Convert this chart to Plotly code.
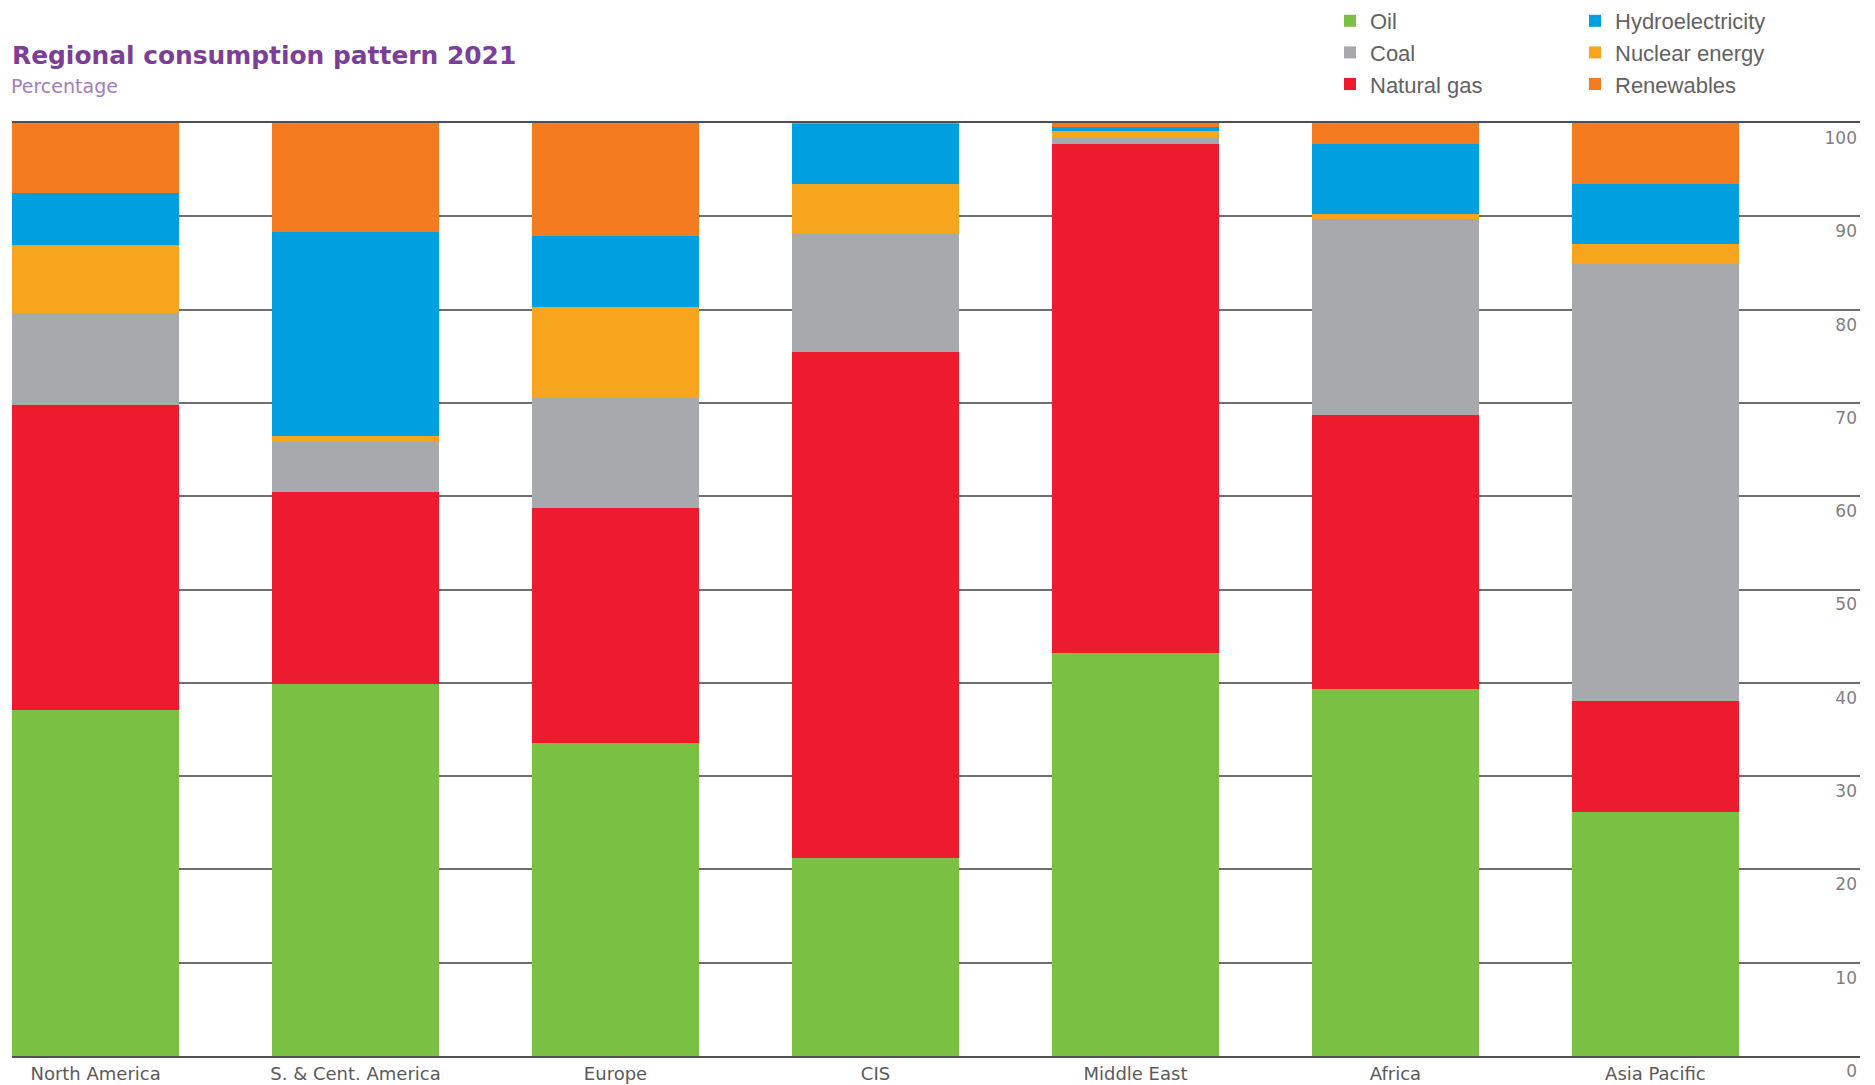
import plotly.graph_objects as go

# Share of primary energy consumption by fuel, per region (percent)
regions = ["North America", "S. & Cent. America", "Europe", "CIS",
           "Middle East", "Africa", "Asia Pacific"]
oil = [37.1, 39.9, 33.6, 21.2, 43.2, 39.3, 26.1]
natural_gas = [32.7, 20.6, 25.1, 54.3, 54.6, 29.4, 11.9]
coal = [9.8, 5.3, 11.8, 12.6, 0.6, 21.0, 46.9]
nuclear = [7.3, 0.6, 9.8, 5.4, 0.7, 0.6, 2.1]
hydro = [5.6, 21.9, 7.6, 6.4, 0.5, 7.4, 6.5]
renewables = [7.5, 11.7, 12.1, 0.1, 0.4, 2.3, 6.5]
y_ticks = list(range(0, 101, 10))

W, H = 1875, 1085
M_L, M_R, M_T, M_B = 12, 15, 123, 29
PLOT_H = H - M_T - M_B

# stacking order bottom -> top; legend column and rank set separately
series = [
    ("Oil", oil, "#7AC143", "legend", 1),
    ("Natural gas", natural_gas, "#EC1C2E", "legend", 3),
    ("Coal", coal, "#A8A9AD", "legend", 2),
    ("Nuclear energy", nuclear, "#F7A51D", "legend2", 5),
    ("Hydroelectricity", hydro, "#009FDF", "legend2", 4),
    ("Renewables", renewables, "#F47B20", "legend2", 6),
]

fig = go.Figure()
for name, vals, color, leg, rank in series:
    fig.add_trace(go.Bar(
        x=regions, y=vals, name=name,
        marker=dict(color=color, line=dict(width=0)),
        width=0.643, legend=leg, legendrank=rank,
    ))

legend_common = dict(
    xref="container", yref="container", xanchor="left", yanchor="top",
    y=1.0, traceorder="normal", bgcolor="rgba(0,0,0,0)",
    font=dict(family="Liberation Sans", size=22, color="#626262"),
    itemclick=False, itemdoubleclick=False,
)

fig.update_layout(
    width=W, height=H,
    barmode="stack",
    plot_bgcolor="white", paper_bgcolor="white",
    margin=dict(l=M_L, r=M_R, t=M_T, b=M_B, autoexpand=False),
    title=dict(
        text="Regional consumption pattern 2021",
        font=dict(family="DejaVu Sans", size=24.9, color="#7B3F98", weight="bold"),
        xref="container", yref="container", x=12 / W, xanchor="left",
        y=1 - 55 / H, yanchor="middle",
    ),
    annotations=[dict(
        text="Percentage", xref="paper", yref="paper",
        x=0, xanchor="left", xshift=-3,
        y=1 + (M_T - 86) / PLOT_H, yanchor="middle",
        showarrow=False,
        font=dict(family="DejaVu Sans", size=19, color="#A47CC0"),
    )],
    legend=dict(x=1330 / W, **legend_common),
    legend2=dict(x=1575 / W, **legend_common),
    xaxis=dict(
        type="category", range=[-0.3215, 6.787],
        showgrid=False, ticks="",
        showline=True, mirror=True, linecolor="#505050", linewidth=2,
        tickfont=dict(family="DejaVu Sans", size=18, color="#5a5a5a"),
    ),
    yaxis=dict(
        range=[0, 100], tickvals=y_ticks, side="right",
        ticklabelposition="inside", ticklabelshift=15,
        ticklabeloverflow="allow",
        showgrid=True, gridcolor="#6e6e6e", gridwidth=2,
        zeroline=False, showline=False, ticks="",
        tickfont=dict(family="DejaVu Sans", size=17, color="#808080"),
    ),
    hovermode=False,
)

fig.write_html("out.html")
